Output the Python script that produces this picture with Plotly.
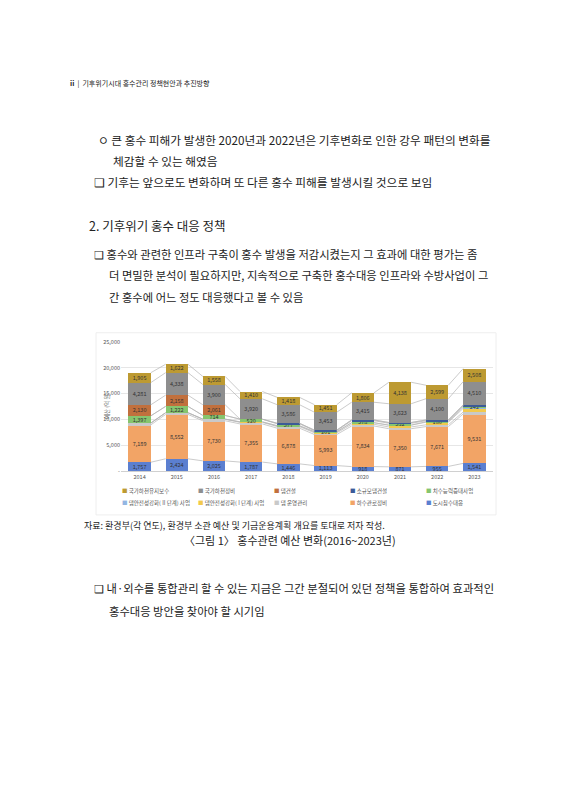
import plotly.graph_objects as go

years = [2014, 2015, 2016, 2017, 2018, 2019, 2020, 2021, 2022, 2023]

# bottom -> top
urban_flood = [1757, 2424, 2025, 1787, 1446, 1113, 918, 871, 955, 1541]
sewer = [7189, 8552, 7730, 7355, 6878, 5993, 7834, 7350, 7671, 9531]
dam_ops = [350, 330, 310, 300, 310, 320, 330, 340, 350, 380]
dam_safety_1 = [0, 0, 0, 100, 150, 200, 300, 350, 500, 700]
dam_safety_2 = [0, 0, 0, 0, 0, 0, 0, 0, 100, 250]
flood_capacity = [1397, 1222, 714, 520, 377, 201, 378, 352, 180, 242]
small_dam = [0, 0, 0, 0, 100, 120, 150, 150, 150, 150]
dam_build = [2130, 2158, 2061, 0, 0, 0, 0, 0, 0, 0]
river_improve = [4281, 4338, 3900, 3920, 3586, 3453, 3415, 3623, 4100, 4510]
river_maint = [1905, 1622, 1558, 1410, 1418, 1451, 1806, 4138, 2599, 2508]

series = [
    ("도시침수대응", urban_flood, "#5b7fd0", True),
    ("하수관로정비", sewer, "#f2a466", True),
    ("댐 운영관리", dam_ops, "#c9c9c9", False),
    ("댐안전성강화( I 단계) 사업", dam_safety_1, "#f2c94c", False),
    ("댐안전성강화( II 단계) 사업", dam_safety_2, "#93b6e2", False),
    ("치수능력증대사업", flood_capacity, "#86c56e", True),
    ("소규모댐건설", small_dam, "#3c5b98", False),
    ("댐건설", dam_build, "#c1703d", True),
    ("국가하천정비", river_improve, "#8e8e8e", True),
    ("국가하천유지보수", river_maint, "#bd9a32", True),
]

FONT = "Noto Sans CJK KR"
fig = go.Figure()

# connector lines between stacked segment tops
cum = [0] * len(years)
for name, vals, color, labeled in series:
    cum = [c + v for c, v in zip(cum, vals)]
    lx, ly = [], []
    for i in range(len(years) - 1):
        lx += [years[i] + 0.3, years[i + 1] - 0.3, None]
        ly += [cum[i], cum[i + 1], None]
    fig.add_trace(go.Scatter(x=lx, y=ly, mode="lines", showlegend=False,
                             line=dict(color="#b5b5b5", width=0.7), hoverinfo="skip"))

for name, vals, color, labeled in series:
    txt = [f"{v:,}" if labeled and v > 0 else "" for v in vals]
    fig.add_trace(go.Bar(x=years, y=vals, name=name, marker=dict(color=color, line=dict(width=0)),
                         text=txt, textposition="inside", insidetextanchor="middle", textangle=0,
                         textfont=dict(size=5.5, color="#333333", family=FONT),
                         width=0.6, showlegend=False))

# hand-made legend, 5 columns x 2 rows (top series first)
legend_order = list(reversed(series))
for k, (name, vals, color, labeled) in enumerate(legend_order):
    col, row = k % 5, k // 5
    x = (112 + col * 76) / 563
    y = 1 - (484 + row * 12) / 800
    fig.add_annotation(x=x, y=y, xref="paper", yref="paper", showarrow=False,
                       xanchor="left", yanchor="middle",
                       text=f"<span style='color:{color}'>■</span> {name}",
                       font=dict(size=5.5, family=FONT, color="#555555"))

notes = [
    (60, 72, "<b>ii</b>  |  기후위기시대 홍수관리 정책현안과 추진방향", 7),
    (88, 129, "ㅇ 큰 홍수 피해가 발생한 2020년과 2022년은 기후변화로 인한 강우 패턴의 변화를", 11.7),
    (103, 150, "체감할 수 있는 해였음", 11.7),
    (84, 171, "❑ 기후는 앞으로도 변화하며 또 다른 홍수 피해를 발생시킬 것으로 보임", 11.7),
    (79, 216, "2. 기후위기 홍수 대응 정책", 12.5),
    (84, 244, "❑ 홍수와 관련한 인프라 구축이 홍수 발생을 저감시켰는지 그 효과에 대한 평가는 좀", 11.3),
    (99, 266, "더 면밀한 분석이 필요하지만, 지속적으로 구축한 홍수대응 인프라와 수방사업이 그", 11.3),
    (99, 288, "간 홍수에 어느 정도 대응했다고 볼 수 있음", 11.3),
    (74, 519, "자료: 환경부(각 연도), 환경부 소관 예산 및 기금운용계획 개요를 토대로 저자 작성.", 9),
    (84, 582, "❑ 내·외수를 통합관리 할 수 있는 지금은 그간 분절되어 있던 정책을 통합하여 효과적인", 11.3),
    (99, 605, "홍수대응 방안을 찾아야 할 시기임", 11.3),
]
for x, y, t, s in notes:
    fig.add_annotation(x=x / 563, y=1 - y / 800, xref="paper", yref="paper", text=t,
                       showarrow=False, xanchor="left", yanchor="middle",
                       font=dict(size=s, family=FONT, color="#222222"))
fig.add_annotation(x=282 / 563, y=1 - 543 / 800, xref="paper", yref="paper",
                   text="〈그림 1〉 홍수관련 예산 변화(2016~2023년)", showarrow=False,
                   font=dict(size=11, family=FONT, color="#222222"))
fig.add_annotation(x=93 / 563, y=1 - 398 / 800, xref="paper", yref="paper", text="예산 (억 원)",
                   textangle=-90, showarrow=False, font=dict(size=5.5, family=FONT, color="#666666"))

fig.update_layout(
    width=563, height=800, barmode="stack",
    margin=dict(l=0, r=0, t=0, b=0),
    paper_bgcolor="white", plot_bgcolor="white",
    font=dict(family=FONT, size=5.5, color="#555555"),
    uniformtext=dict(minsize=5.5, mode="show"),
    showlegend=False,
    xaxis=dict(domain=[113 / 563, 485 / 563], tickmode="array", tickvals=years,
               ticktext=[str(y) for y in years], showgrid=False, range=[2013.5, 2023.5],
               linecolor="#d0d0d0", ticks=""),
    yaxis=dict(domain=[1 - 464 / 800, 1 - 333 / 800], range=[0, 25000],
               gridcolor="#e6e6e6", zeroline=False,
               tickvals=[0, 5000, 10000, 15000, 20000, 25000],
               ticktext=["-", "5,000", "10,000", "15,000", "20,000", "25,000"]),
)
fig.add_shape(type="rect", xref="paper", yref="paper", x0=88 / 563, x1=488 / 563,
              y0=1 - 508 / 800, y1=1 - 324 / 800, line=dict(color="#eeeeee", width=1), layer="below")

fig.write_html("out.html")
